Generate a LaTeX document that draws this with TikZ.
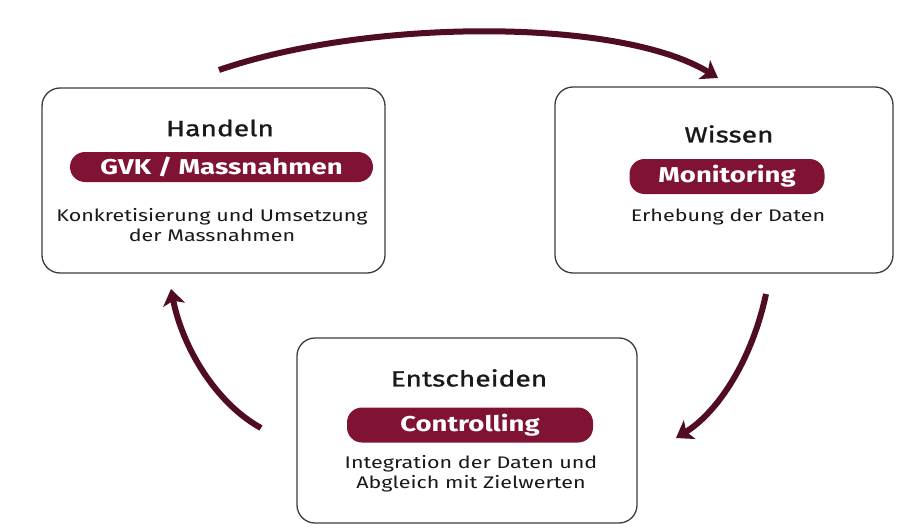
\documentclass[tikz,border=0pt]{standalone}
\usepackage{fontspec}
\setmainfont{Fira Sans}[FakeStretch=1.28]
\newfontfamily\medfont{Fira Sans}[FakeStretch=1.28, FakeBold=1.2]
\usetikzlibrary{arrows.meta}
\definecolor{wine}{RGB}{128,18,52}
\definecolor{arrowc}{RGB}{80,12,32}
\definecolor{frame}{RGB}{60,60,60}
\tikzset{
  card/.style={draw=frame, line width=1.3pt, rounded corners=18pt, fill=white},
  title/.style={font=\medfont\fontsize{22}{24}\selectfont, text=black!90},
  pill/.style={fill=wine, rounded corners=15pt, text=white, font=\fontsize{21.5}{24}\selectfont\bfseries, inner sep=0pt},
  desc/.style={font=\fontsize{16.8}{20}\selectfont, text=black!90, align=center},
  cyc/.style={draw=arrowc, line width=6pt, -{Stealth[length=16pt,width=22pt,inset=4pt]}}
}
\begin{document}
\begin{tikzpicture}[x=1pt,y=-1pt]
\useasboundingbox (0,0) rectangle (897,530);
\fill[white] (0,0) rectangle (897,530);
% cards
\node[card, minimum width=343pt, minimum height=185pt] (handeln) at (213.5,180.5) {};
\node[card, minimum width=338pt, minimum height=186pt] (wissen) at (724,180) {};
\node[card, minimum width=340pt, minimum height=185pt] (entsch) at (467,430.5) {};
% Handeln
\node[title] (th) at (220,128) {Handeln};
\node[pill, minimum width=303pt, minimum height=30pt] (ph) at (221.5,167) {GVK / Massnahmen};
\node[desc] (dh) at (212,225) {Konkretisierung und Umsetzung\\der Massnahmen};
% Wissen
\node[title] (tw) at (729,134) {Wissen};
\node[pill, minimum width=195pt, minimum height=35pt] (pw) at (727,176.5) {Monitoring};
\node[desc] (dw) at (728,217) {Erhebung der Daten};
% Entscheiden
\node[title] (te) at (469,378) {Entscheiden};
\node[pill, minimum width=246pt, minimum height=35pt] (pe) at (470,425) {Controlling};
\node[desc] (de) at (471,474) {Integration der Daten und\\Abgleich mit Zielwerten};
% cycle arrows
\coordinate (a1s) at (219,70);
\coordinate (a1e) at (718,78);
\coordinate (a2s) at (766,294);
\coordinate (a2e) at (676,438);
\coordinate (a3s) at (261,428);
\coordinate (a3e) at (171,289);
\draw[cyc] (a1s) .. controls (370,18) and (620,18) .. (a1e);
\draw[cyc] (a2s) .. controls (752,360) and (718,412) .. (a2e);
\draw[cyc] (a3s) .. controls (214,402) and (182,345) .. (a3e);
\end{tikzpicture}
\end{document}
